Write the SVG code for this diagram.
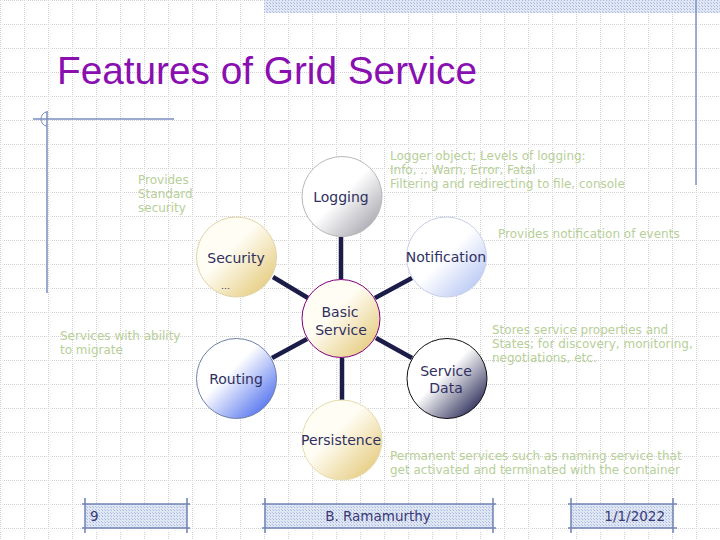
<svg xmlns="http://www.w3.org/2000/svg" width="720" height="540" viewBox="0 0 720 540">
<defs>
<pattern id="grid" width="24" height="24" patternUnits="userSpaceOnUse">
<path d="M0 0.5H24M0.5 0V24" fill="none" stroke="#cfcfcf" stroke-width="1" stroke-dasharray="1 1"/>
<path d="M0 2.5H24M2.5 0V24" fill="none" stroke="#f0f0f0" stroke-width="1" stroke-dasharray="1 2"/>
</pattern>
<pattern id="hatch" width="3" height="3" patternUnits="userSpaceOnUse">
<rect width="3" height="3" fill="#dfe6f4"/>
<rect width="1" height="1" fill="#a9b8dc"/>
<rect x="2" y="2" width="1" height="1" fill="#b8c5e3"/>
</pattern>
<linearGradient id="gGray" x1="0.15" y1="0.15" x2="0.9" y2="0.9"><stop offset="0.45" stop-color="#ffffff"/><stop offset="1" stop-color="#a8a8b0"/></linearGradient>
<linearGradient id="gGold" x1="0.15" y1="0.15" x2="0.9" y2="0.9"><stop offset="0.35" stop-color="#fffdf4"/><stop offset="1" stop-color="#e6cc80"/></linearGradient>
<linearGradient id="gLBlue" x1="0.15" y1="0.15" x2="0.9" y2="0.9"><stop offset="0.45" stop-color="#ffffff"/><stop offset="1" stop-color="#b8c8f4"/></linearGradient>
<linearGradient id="gBlue" x1="0.15" y1="0.15" x2="0.9" y2="0.9"><stop offset="0.35" stop-color="#ffffff"/><stop offset="1" stop-color="#5070ee"/></linearGradient>
<linearGradient id="gNavy" x1="0.15" y1="0.15" x2="0.9" y2="0.9"><stop offset="0.4" stop-color="#ffffff"/><stop offset="1" stop-color="#2a2a58"/></linearGradient>
<style>
.note{font-family:"DejaVu Sans",Verdana,sans-serif;font-size:12px;fill:#b7cf98}
.lbl{font-family:"DejaVu Sans",Verdana,sans-serif;font-size:14px;fill:#303060;text-anchor:middle}
.conn{stroke:#1c1c48;stroke-width:4.5;fill:none}
.foot{font-family:"DejaVu Sans",Verdana,sans-serif;font-size:13.5px;fill:#3a3a78}
.fl{stroke:#7283b5;stroke-width:1.5;fill:none}
</style>
</defs>
<rect width="720" height="540" fill="#ffffff"/>
<rect width="720" height="540" fill="url(#grid)"/>
<rect x="264" y="0" width="456" height="13" fill="url(#hatch)"/>
<line x1="696" y1="0" x2="696" y2="185" stroke="#8090c0" stroke-width="1.5"/>
<text x="57" y="84" font-family="Liberation Sans,Arial,sans-serif" font-size="39" fill="#8a0fb0" textLength="420" lengthAdjust="spacingAndGlyphs">Features of Grid Service</text>
<line x1="33" y1="119" x2="174" y2="119" stroke="#7a8cc0" stroke-width="1.5"/>
<line x1="47" y1="111" x2="47" y2="293" stroke="#7a8cc0" stroke-width="1.5"/>
<path d="M47 112 A6 7 0 0 0 47 126" fill="none" stroke="#7a8cc0" stroke-width="1"/>

<g id="connectors">
<line class="conn" x1="341" y1="237" x2="341" y2="279"/>
<line class="conn" x1="273" y1="277" x2="308" y2="298"/>
<line class="conn" x1="412" y1="278" x2="375" y2="298"/>
<line class="conn" x1="272" y1="358" x2="307" y2="339"/>
<line class="conn" x1="412" y1="358" x2="376" y2="338"/>
<line class="conn" x1="342" y1="358" x2="342" y2="400"/>
</g>

<g id="logging"><circle cx="342" cy="196.5" r="40" fill="url(#gGray)" stroke="#b8b8b8" stroke-width="1"/><text class="lbl" x="341" y="202">Logging</text></g>
<g id="security"><circle cx="236.5" cy="257" r="40" fill="url(#gGold)" stroke="#e0d4a8" stroke-width="1"/><text class="lbl" x="236" y="263">Security</text><text x="221" y="289" font-family="DejaVu Sans,Verdana,sans-serif" font-size="9" fill="#303060">…</text></g>
<g id="notification"><circle cx="446.5" cy="257" r="40" fill="url(#gLBlue)" stroke="#c8d0e8" stroke-width="1"/><text class="lbl" x="446" y="262" font-size="12.5">Notification</text></g>
<g id="basic"><circle cx="341" cy="318.5" r="39" fill="url(#gGold)" stroke="#800080" stroke-width="1"/><text class="lbl" x="340" y="317">Basic</text><text class="lbl" x="341" y="335">Service</text></g>
<g id="routing"><circle cx="236.5" cy="378.5" r="40" fill="url(#gBlue)" stroke="#7080a8" stroke-width="1"/><text class="lbl" x="236" y="384">Routing</text></g>
<g id="servicedata"><circle cx="447" cy="378.5" r="40" fill="url(#gNavy)" stroke="#101010" stroke-width="1"/><text class="lbl" x="446" y="376">Service</text><text class="lbl" x="446" y="393">Data</text></g>
<g id="persistence"><circle cx="342" cy="440" r="40" fill="url(#gGold)" stroke="#e6dcb0" stroke-width="1"/><text class="lbl" x="341" y="445" font-size="13.5">Persistence</text></g>

<g id="notes">
<text class="note" x="138" y="184">Provides</text>
<text class="note" x="138" y="198">Standard</text>
<text class="note" x="138" y="212">security</text>
<text class="note" x="390" y="160">Logger object; Levels of logging:</text>
<text class="note" x="390" y="174">Info, .. Warn, Error, Fatal</text>
<text class="note" x="390" y="188">Filtering and redirecting to file, console</text>
<text class="note" x="498" y="238">Provides notification of events</text>
<text class="note" x="60" y="340">Services with ability</text>
<text class="note" x="60" y="354">to migrate</text>
<text class="note" x="492" y="334">Stores service properties and</text>
<text class="note" x="492" y="348">States; for discovery, monitoring,</text>
<text class="note" x="492" y="362">negotiations, etc.</text>
<text class="note" x="390" y="460">Permanent services such as naming service that</text>
<text class="note" x="390" y="474">get activated and terminated with the container</text>
</g>

<g id="footer">
<rect x="85" y="504" width="102" height="24" fill="url(#hatch)"/>
<path class="fl" d="M82 504H190M82 528H190M85 498V533M187 498V533"/>
<text class="foot" x="90" y="521">9</text>
<rect x="265" y="504" width="228" height="24" fill="url(#hatch)"/>
<path class="fl" d="M262 504H496M262 528H496M265 498V533M493 498V533"/>
<text class="foot" x="378" y="521" text-anchor="middle">B. Ramamurthy</text>
<rect x="571" y="504" width="102" height="24" fill="url(#hatch)"/>
<path class="fl" d="M568 504H677M568 528H677M571 498V533M673 498V533"/>
<text class="foot" x="665" y="521" text-anchor="end">1/1/2022</text>
</g>
</svg>
